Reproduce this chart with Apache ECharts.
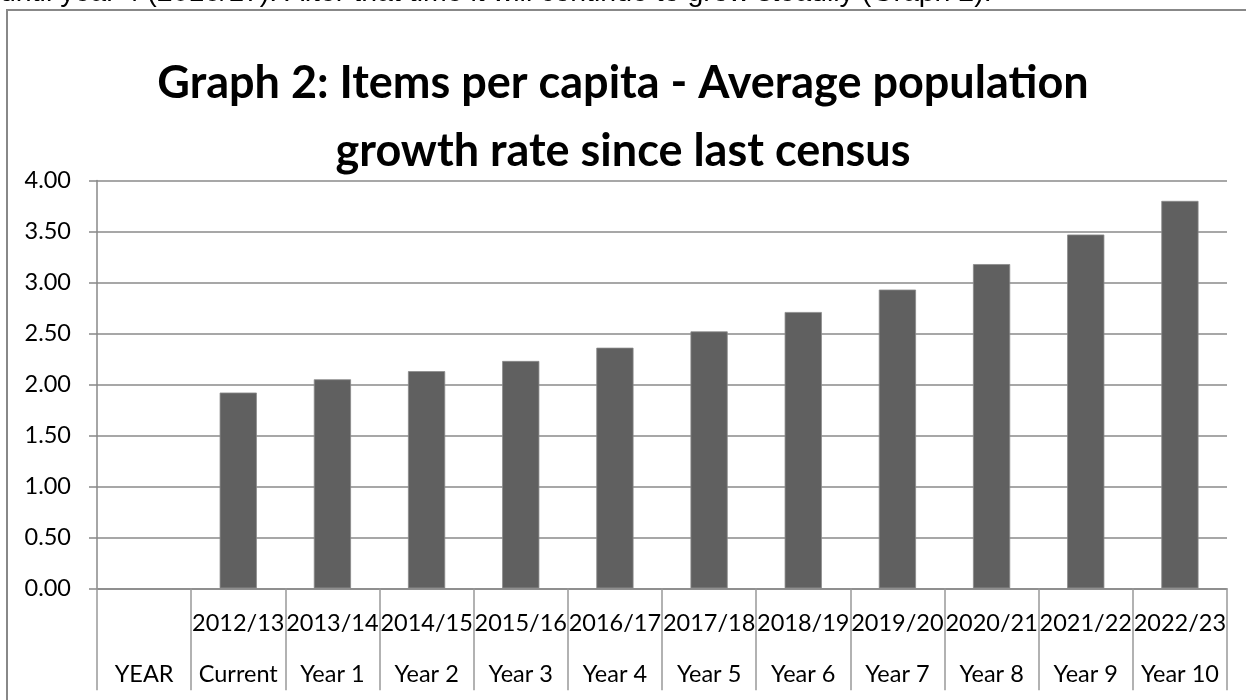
<!DOCTYPE html>
<html>
<head>
<meta charset="utf-8">
<script src="https://cdn.jsdelivr.net/npm/echarts@6/dist/echarts.min.js"></script>
<style>
html,body{margin:0;padding:0;background:#fff;}
#chart{width:1246px;height:700px;}
</style>
</head>
<body>
<div id="chart"></div>
<script>
var yearLabels = ['', '2012/13', '2013/14', '2014/15', '2015/16', '2016/17', '2017/18', '2018/19', '2019/20', '2020/21', '2021/22', '2022/23'];
var periodLabels = ['YEAR', 'Current', 'Year 1', 'Year 2', 'Year 3', 'Year 4', 'Year 5', 'Year 6', 'Year 7', 'Year 8', 'Year 9', 'Year 10'];
var itemsPerCapita = [null, 1.92, 2.05, 2.13, 2.23, 2.36, 2.52, 2.71, 2.93, 3.18, 3.47, 3.80];
var titleText = 'Graph 2: Items per capita - Average population\ngrowth rate since last census';
var topText = 'until year 4 (2016/17). After that time it will continue to grow steadily (Graph 2).';

var chart = echarts.init(document.getElementById('chart'));
var font = 'Lato, "Noto Sans", sans-serif';
chart.setOption({
  animation: false,
  backgroundColor: '#fff',
  graphic: [
    {type: 'text', left: 0, top: -21, z: 10,
     style: {text: topText, font: '28.5px "Liberation Sans", Arial, sans-serif', fill: '#000'}},
    {type: 'rect', shape: {x: 7, y: 10, width: 1300, height: 800},
     style: {fill: 'none', stroke: '#888', lineWidth: 2}, z: -1}
  ],
  title: {
    text: titleText,
    left: 'center',
    top: 44,
    textStyle: {fontFamily: font, fontWeight: 'bold', fontSize: 45, lineHeight: 68, color: '#000'}
  },
  grid: {left: 97, right: 19, top: 180.5, bottom: 111.7, containLabel: false},
  xAxis: {
    type: 'category',
    data: yearLabels.map(function (y, i) { return i; }),
    axisLine: {show: true, lineStyle: {color: '#888', width: 1.5}},
    axisTick: {show: true, interval: 0, length: 102, alignWithLabel: false, lineStyle: {color: '#999', width: 1.5}},
    axisLabel: {
      interval: 0, margin: 10,
      formatter: function (v) {
        var i = +v;
        var t = yearLabels[i] || ' ';
        return '{a|' + t + '}\n{b|' + periodLabels[i] + '}';
      },
      rich: {
        a: {fontFamily: font, fontSize: 23.5, lineHeight: 51, color: '#000'},
        b: {fontFamily: font, fontSize: 23.5, lineHeight: 51, color: '#000'}
      }
    },
    splitLine: {show: false}
  },
  yAxis: {
    type: 'value', min: 0, max: 4, interval: 0.5,
    axisLine: {show: true, lineStyle: {color: '#888', width: 1.5}},
    axisTick: {show: true, length: 8, lineStyle: {color: '#888', width: 1.5}},
    axisLabel: {margin: 26, fontFamily: font, fontSize: 23.5, color: '#000',
      formatter: function (v) { return v.toFixed(2); }},
    splitLine: {show: true, lineStyle: {color: '#8a8a8a', width: 1.5}}
  },
  series: [{
    type: 'bar',
    data: itemsPerCapita,
    barWidth: '39.5%',
    itemStyle: {color: '#606060', borderColor: '#8a8a8a', borderWidth: 0.8}
  }]
});
</script>
</body>
</html>
